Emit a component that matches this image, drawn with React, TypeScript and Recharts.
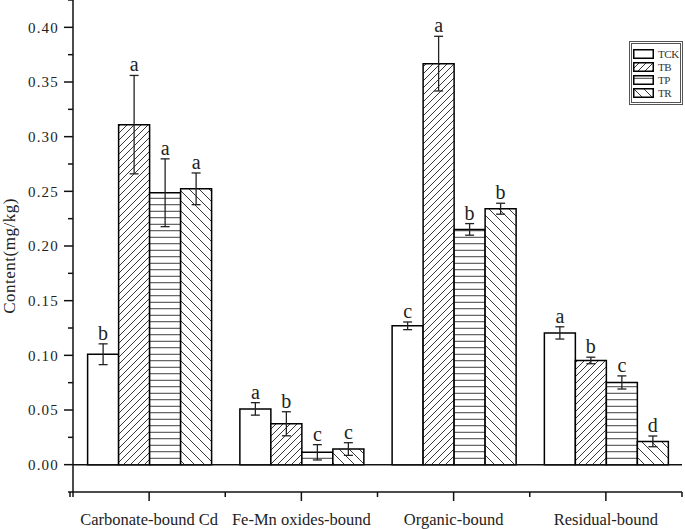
import React from "react"
import { BarChart, Bar, XAxis, YAxis, ErrorBar, ReferenceLine, Legend } from "recharts"

const categories = ["Carbonate-bound Cd", "Fe-Mn oxides-bound", "Organic-bound", "Residual-bound"]
const seriesNames = ["TCK", "TB", "TP", "TR"]

const tck = [0.101, 0.051, 0.127, 0.1205]
const tckErr = [0.0095, 0.0057, 0.0035, 0.0056]
const tckSig = ["b", "a", "c", "a"]

const tb = [0.311, 0.0374, 0.3668, 0.0953]
const tbErr = [0.045, 0.011, 0.025, 0.003]
const tbSig = ["a", "b", "a", "b"]

const tp = [0.2487, 0.0113, 0.2152, 0.0752]
const tpErr = [0.031, 0.007, 0.0053, 0.006]
const tpSig = ["a", "c", "b", "c"]

const tr = [0.2523, 0.0143, 0.2341, 0.0213]
const trErr = [0.0145, 0.0058, 0.005, 0.0049]
const trSig = ["a", "c", "b", "d"]

const yTicks = [-0.025, 0, 0.025, 0.05, 0.075, 0.1, 0.125, 0.15, 0.175, 0.2, 0.225, 0.25, 0.275, 0.3, 0.325, 0.35, 0.375, 0.4, 0.425]
const yMajor = [0, 0.05, 0.1, 0.15, 0.2, 0.25, 0.3, 0.35, 0.4]

const series: { [k: string]: { vals: number[]; errs: number[]; sigs: string[]; fill: string } } = {
  TCK: { vals: tck, errs: tckErr, sigs: tckSig, fill: "#ffffff" },
  TB: { vals: tb, errs: tbErr, sigs: tbSig, fill: "url(#hatchTB)" },
  TP: { vals: tp, errs: tpErr, sigs: tpSig, fill: "url(#hatchTP)" },
  TR: { vals: tr, errs: trErr, sigs: trSig, fill: "url(#hatchTR)" },
}

const rows = categories.map((name, i) => {
  const row: any = { name }
  seriesNames.forEach((s) => {
    row[s] = series[s].vals[i]
    row[s + "_err"] = series[s].errs[i]
  })
  return row
})

const serif = '"Liberation Serif", "Times New Roman", serif'

// significance letter sitting above the error bar
const sigLabel = (key: string) => (props: any) => {
  const { vals, errs, sigs } = series[key]
  const vb = props.viewBox || {}
  const x = props.x ?? vb.x
  const y = props.y ?? vb.y
  const width = props.width ?? vb.width
  const height = props.height ?? vb.height
  const i = typeof props.index === "number" ? props.index : vals.indexOf(props.value)
  if (i < 0) return null
  const pxPerUnit = vals[i] ? Math.abs(height) / vals[i] : 0
  const top = y - errs[i] * pxPerUnit
  return (
    <text x={x + width / 2} y={top - 4} textAnchor="middle" fontFamily={serif} fontSize={20} fill="#222">
      {sigs[i]}
    </text>
  )
}

const YTick = (props: any) => {
  const { x, y, payload } = props
  const v = payload.value
  const major = yMajor.some((m) => Math.abs(m - v) < 1e-9)
  return (
    <g>
      <line x1={x} x2={x - (major ? 9 : 5)} y1={y} y2={y} stroke="#111" strokeWidth={1.5} />
      {major && (
        <text x={x - 14} y={y} dy="0.35em" textAnchor="end" fontFamily={serif} fontSize={15} letterSpacing={1.2} fill="#222">
          {v.toFixed(2)}
        </text>
      )}
    </g>
  )
}

const XTick = (props: any) => {
  const { x, y, payload, index } = props
  const half = payload.offset || 76
  return (
    <g>
      <line x1={x} x2={x} y1={y} y2={y + 9} stroke="#111" strokeWidth={1.5} />
      <line x1={x + half} x2={x + half} y1={y} y2={y + 5} stroke="#111" strokeWidth={1.5} />
      {index === 0 && <line x1={x - half - 3} x2={x - half - 3} y1={y} y2={y + 5} stroke="#111" strokeWidth={1.5} />}
      {index === 0 && <line x1={x - half} x2={x - half} y1={y} y2={y + 5} stroke="#111" strokeWidth={1.5} />}
      <text x={x} y={y + 33} textAnchor="middle" fontFamily={serif} fontSize={16.5} fill="#222">
        {payload.value}
      </text>
    </g>
  )
}

const LegendBox = () => (
  <div style={{ border: "3px double #555", background: "#fff", padding: "3px 1px", fontFamily: serif, fontSize: 11, color: "#333" }}>
    {seriesNames.map((s) => (
      <div key={s} style={{ display: "flex", alignItems: "center", height: 13 }}>
        <svg width={21} height={10} style={{ display: "block", flexShrink: 0 }}>
          <rect x={0.75} y={0.75} width={19.5} height={8.5} fill={series[s].fill} stroke="#000" strokeWidth={1.5} />
        </svg>
        <span style={{ marginLeft: 4, lineHeight: "12px", whiteSpace: "nowrap", letterSpacing: -0.4 }}>{s}</span>
      </div>
    ))}
  </div>
)

const Patterns = () => (
  <svg width={0} height={0} style={{ position: "absolute" }}>
    <defs>
      <pattern id="hatchTB" patternUnits="userSpaceOnUse" width={7} height={7}>
        <rect width={7} height={7} fill="#fff" />
        <path d="M-1,1 l2,-2 M0,7 l7,-7 M6,8 l2,-2" stroke="#222" strokeWidth={0.9} />
      </pattern>
      <pattern id="hatchTP" patternUnits="userSpaceOnUse" width={10} height={6.5}>
        <rect width={10} height={6.5} fill="#fff" />
        <line x1={0} x2={10} y1={3.25} y2={3.25} stroke="#222" strokeWidth={0.9} />
      </pattern>
      <pattern id="hatchTR" patternUnits="userSpaceOnUse" width={10} height={10}>
        <rect width={10} height={10} fill="#fff" />
        <path d="M0,0 l10,10 M-1,9 l2,2 M9,-1 l2,2" stroke="#222" strokeWidth={0.9} />
      </pattern>
    </defs>
  </svg>
)

export default function App() {
  return (
    <div style={{ position: "absolute", left: 0, top: 0, width: 685, height: 529, overflow: "hidden", background: "#fff" }}>
      <Patterns />
      <BarChart
        width={685}
        height={529}
        data={rows}
        margin={{ top: 0, right: 3, bottom: 0, left: 0 }}
        barCategoryGap="9.6%"
        barGap={0}
      >
        <XAxis
          dataKey="name"
          height={37}
          interval={0}
          tickSize={0}
          tickMargin={0}
          tickLine={false}
          tick={<XTick />}
          axisLine={{ stroke: "#111", strokeWidth: 1.5 }}
        />
        <YAxis
          width={73}
          domain={[-0.025, 0.425]}
          ticks={yTicks}
          interval={0}
          allowDataOverflow
          tickSize={0}
          tickMargin={0}
          tickLine={false}
          tick={<YTick />}
          axisLine={{ stroke: "#111", strokeWidth: 1.5 }}
          label={{
            content: () => (
              <text x={9} y={256} transform="rotate(-90 9 256)" textAnchor="middle" dominantBaseline="central" fontFamily={serif} fontSize={17} letterSpacing={0.5} fill="#222">
                Content(mg/kg)
              </text>
            ),
          }}
        />
        <ReferenceLine y={0} stroke="#111" strokeWidth={1.5} />
        <Legend
          layout="vertical"
          align="center"
          verticalAlign="middle"
          content={<LegendBox />}
          wrapperStyle={{ left: 629, top: 41, width: 54, right: "auto", bottom: "auto" }}
        />
        {seriesNames.map((s) => (
          <Bar
            key={s}
            dataKey={s}
            fill={series[s].fill}
            stroke="#000"
            strokeWidth={1.5}
            isAnimationActive={false}
            label={sigLabel(s)}
          >
            <ErrorBar dataKey={s + "_err"} width={4.5} stroke="#222" strokeWidth={1.3} />
          </Bar>
        ))}
      </BarChart>
    </div>
  )
}
